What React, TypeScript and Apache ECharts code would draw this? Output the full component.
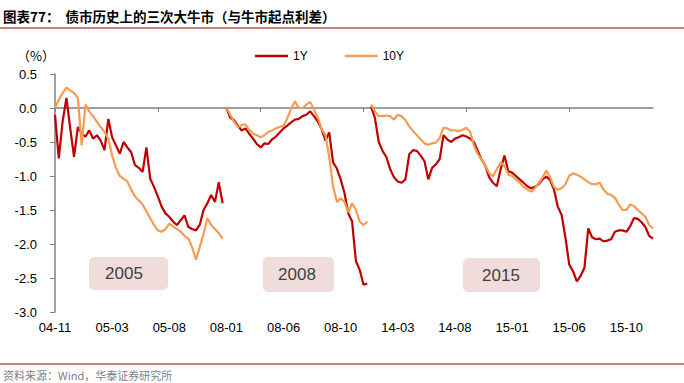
import React, { useEffect, useRef } from 'react';
import * as echarts from 'echarts';

// x-axis tick labels (one every 15 points on the category axis)
const tickLabels = ['04-11', '05-03', '05-08', '08-01', '08-06', '08-10', '14-03', '14-08', '15-01', '15-06', '15-10'];
const POINTS_PER_LABEL = 15;
const POINTS_PER_TICK = 27;
const CATEGORY_COUNT = 158;

// start index of each bull-market segment on the category axis
const start2005 = 0;
const start2008 = 45;
const start2015 = 83;

// 1Y spread vs bull-market start (%)
const y1_2005 = [-0.10, -0.74, -0.20, 0.15, -0.30, -0.72, -0.28, -0.38, -0.42, -0.33, -0.45, -0.40, -0.48, -0.62, -0.16, -0.43, -0.55, -0.67, -0.50, -0.58, -0.65, -0.84, -0.88, -0.94, -0.58, -1.04, -1.16, -1.30, -1.45, -1.55, -1.60, -1.67, -1.72, -1.65, -1.58, -1.75, -1.78, -1.80, -1.72, -1.50, -1.40, -1.28, -1.38, -1.09, -1.40];
const y1_2008 = [0.00, -0.14, -0.18, -0.26, -0.33, -0.30, -0.38, -0.45, -0.53, -0.58, -0.52, -0.53, -0.46, -0.42, -0.36, -0.30, -0.26, -0.21, -0.17, -0.16, -0.12, -0.10, -0.05, -0.12, -0.20, -0.31, -0.48, -0.36, -0.80, -0.89, -1.05, -1.25, -1.55, -1.67, -2.25, -2.38, -2.60, -2.58];
const y1_2015 = [0.02, -0.15, -0.50, -0.63, -0.72, -0.90, -1.02, -1.08, -1.10, -1.05, -0.68, -0.62, -0.63, -0.70, -0.78, -1.05, -0.88, -0.83, -0.75, -0.40, -0.46, -0.50, -0.45, -0.43, -0.40, -0.42, -0.45, -0.50, -0.63, -0.76, -0.85, -1.02, -1.10, -1.15, -0.90, -0.70, -0.93, -0.95, -1.00, -1.05,
  -1.10, -1.15, -1.18, -1.16, -1.12, -1.05, -1.01, -1.06, -1.20, -1.45, -1.57, -1.90, -2.30, -2.40, -2.55, -2.47, -2.35, -1.77, -1.90, -1.93, -1.92, -1.96, -1.95, -1.93, -1.82, -1.80, -1.80, -1.82, -1.74, -1.62, -1.63, -1.68, -1.75, -1.88, -1.92];

// 10Y spread vs bull-market start (%)
const y10_2005 = [0.00, 0.12, 0.22, 0.30, 0.26, 0.22, 0.15, -0.55, 0.05, -0.05, -0.12, -0.20, -0.28, -0.35, -0.45, -0.70, -0.88, -1.00, -1.04, -1.08, -1.20, -1.30, -1.36, -1.42, -1.52, -1.62, -1.72, -1.80, -1.82, -1.78, -1.70, -1.74, -1.78, -1.82, -1.88, -1.92, -2.05, -2.23, -2.05, -1.85, -1.62, -1.72, -1.78, -1.84, -1.92];
const y10_2008 = [0.00, -0.10, -0.20, -0.28, -0.25, -0.24, -0.32, -0.38, -0.40, -0.43, -0.40, -0.35, -0.33, -0.30, -0.28, -0.26, -0.15, -0.01, 0.10, 0.00, 0.00, 0.05, 0.09, -0.02, -0.14, -0.31, -0.40, -0.72, -1.15, -1.38, -1.33, -1.38, -1.53, -1.40, -1.50, -1.67, -1.72, -1.67];
const y10_2015 = [0.05, -0.05, -0.12, -0.12, -0.11, -0.12, -0.17, -0.10, -0.12, -0.18, -0.27, -0.34, -0.40, -0.46, -0.52, -0.54, -0.52, -0.51, -0.44, -0.29, -0.30, -0.33, -0.33, -0.34, -0.32, -0.29, -0.35, -0.55, -0.68, -0.76, -0.85, -0.96, -1.00, -0.90, -0.80, -0.85, -0.98, -1.00, -1.05, -1.10,
  -1.16, -1.20, -1.23, -1.18, -1.10, -1.02, -0.92, -1.02, -1.16, -1.20, -1.18, -1.12, -1.00, -0.96, -0.98, -1.01, -1.05, -1.09, -1.12, -1.12, -1.10, -1.20, -1.26, -1.28, -1.32, -1.42, -1.50, -1.50, -1.42, -1.44, -1.50, -1.55, -1.60, -1.72, -1.77];

const seriesNames = ['1Y', '10Y'];
const yearLabels = ['2005', '2008', '2015'];

const RED = '#c00000';
const ORANGE = '#f59c50';
const AXIS = '#808080';
const LATIN = '"Liberation Sans", Arial, sans-serif';
const CJK = '"Noto Sans CJK SC", sans-serif';

export default function App() {
  const ref = useRef<HTMLDivElement>(null);

  useEffect(() => {
    const chart = echarts.init(ref.current!, null, { renderer: 'svg' });
    const categories = Array.from({ length: CATEGORY_COUNT }, (_, i) => String(i));

    const mk = (name: string, color: string, values: number[], start: number, z: number) => ({
      name,
      type: 'line',
      xAxisIndex: 0,
      yAxisIndex: 0,
      data: values.map((v, k) => [start + k, v]),
      symbol: 'none',
      showSymbol: false,
      lineStyle: { color, width: 2.2 },
      itemStyle: { color },
      emphasis: { disabled: true },
      silent: true,
      z,
    });

    const boxes = [
      { x: 89, y: 257, w: 79, h: 33, tx: 124 },
      { x: 263, y: 257, w: 71, h: 35, tx: 297 },
      { x: 463, y: 258, w: 77, h: 34, tx: 501 },
    ];

    const graphic: any[] = [
      {
        type: 'text', x: 3, y: 16,
        style: { text: '图表77：  债市历史上的三次大牛市（与牛市起点利差）', font: `bold 13.5px ${CJK}`, fill: '#000', textVerticalAlign: 'middle' },
      },
      { type: 'line', shape: { x1: 0, y1: 28, x2: 684, y2: 28 }, style: { stroke: '#c0504d', lineWidth: 1.5 } },
      {
        type: 'text', x: 17, y: 55,
        style: { text: '（%）', font: `13px ${CJK}`, fill: '#000', textVerticalAlign: 'middle' },
      },
      { type: 'line', shape: { x1: 0, y1: 364, x2: 684, y2: 364 }, style: { stroke: '#c0504d', lineWidth: 1.5 } },
      {
        type: 'text', x: 3, y: 375,
        style: { text: '资料来源：Wind，华泰证券研究所', font: `11px ${CJK}`, fill: '#7f7f7f', textVerticalAlign: 'middle' },
      },
    ];
    boxes.forEach((b, i) => {
      graphic.push({ type: 'rect', shape: { x: b.x, y: b.y, width: b.w, height: b.h, r: 5 }, style: { fill: '#f1dcdc' } });
      graphic.push({
        type: 'text', x: b.tx, y: b.y + b.h / 2,
        style: { text: yearLabels[i], font: `17px ${LATIN}`, fill: '#404040', textAlign: 'center', textVerticalAlign: 'middle' },
      });
    });

    const option: any = {
      animation: false,
      backgroundColor: '#ffffff',
      grid: { left: 55, right: 31, top: 74, bottom: 71, containLabel: false },
      legend: {
        data: seriesNames,
        left: 255,
        top: 50,
        padding: 0,
        icon: 'rect',
        itemWidth: 33,
        itemHeight: 2.5,
        itemGap: 37,
        textStyle: { fontSize: 12, fontFamily: LATIN, color: '#000' },
      },
      xAxis: [
        {
          type: 'category',
          data: categories,
          boundaryGap: false,
          position: 'bottom',
          axisLine: { show: true, onZero: true, lineStyle: { color: AXIS, width: 1.5 } },
          axisTick: { show: true, interval: POINTS_PER_TICK - 1, length: 4, lineStyle: { color: AXIS } },
          axisLabel: { show: false },
          splitLine: { show: false },
        },
        {
          type: 'category',
          data: categories,
          boundaryGap: false,
          position: 'bottom',
          axisLine: { show: false, onZero: false },
          axisTick: { show: false },
          splitLine: { show: false },
          axisLabel: {
            interval: POINTS_PER_LABEL - 1,
            margin: 9,
            fontSize: 13,
            fontFamily: LATIN,
            color: '#000',
            formatter: (_v: string, idx: number) => (idx % POINTS_PER_LABEL === 0 ? tickLabels[idx / POINTS_PER_LABEL] ?? '' : ''),
          },
        },
      ],
      yAxis: {
        type: 'value',
        min: -3,
        max: 0.5,
        interval: 0.5,
        axisLine: { show: true, lineStyle: { color: AXIS, width: 1.5 } },
        axisTick: { show: true, length: 5, lineStyle: { color: AXIS } },
        splitLine: { show: false },
        axisLabel: {
          margin: 18,
          fontSize: 13,
          fontFamily: LATIN,
          color: '#000',
          formatter: (v: number) => v.toFixed(1),
        },
      },
      series: [
        mk('1Y', RED, y1_2005, start2005, 2),
        mk('1Y', RED, y1_2008, start2008, 2),
        mk('1Y', RED, y1_2015, start2015, 2),
        mk('10Y', ORANGE, y10_2005, start2005, 3),
        mk('10Y', ORANGE, y10_2008, start2008, 3),
        mk('10Y', ORANGE, y10_2015, start2015, 3),
      ],
      graphic,
    };

    chart.setOption(option);
    return () => chart.dispose();
  }, []);

  return <div ref={ref} style={{ position: 'fixed', left: 0, top: 0, width: 684, height: 383, background: '#fff' }} />;
}
